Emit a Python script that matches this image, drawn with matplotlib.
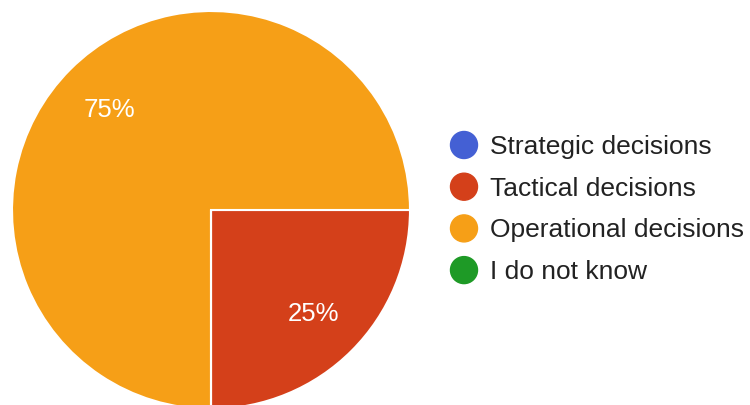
import numpy as np
import matplotlib.pyplot as plt

plt.rcParams["font.family"] = ["Liberation Sans", "DejaVu Sans"]

# ── Data ──────────────────────────────────────────────────────────────────────
labels = ["Strategic decisions", "Tactical decisions",
          "Operational decisions", "I do not know"]
shares = [0, 25, 75, 0]
colors = ["#4460d4", "#d4401a", "#f69f17", "#1e9a26"]

W, H = 750, 405
fig = plt.figure(figsize=(W / 100, H / 100), dpi=100)

# pie axes: centre (211, 210) px from top-left, radius ~199 px
cx, cy, r = 211, 210, 199
ax = fig.add_axes([(cx - r) / W, (H - cy - r) / H, 2 * r / W, 2 * r / H])
wedges, _ = ax.pie(
    shares, colors=colors, startangle=-90, counterclock=True,
    wedgeprops=dict(edgecolor="white", linewidth=1.5),
)
ax.set_xlim(-1, 1); ax.set_ylim(-1, 1)
ax.set_aspect("equal")
ax.axis("off")

# percentage labels inside the non-empty slices
total = sum(shares)
for w, v in zip(wedges, shares):
    if v == 0:
        continue
    mid = np.deg2rad((w.theta1 + w.theta2) / 2)
    ax.text(0.725 * np.cos(mid), 0.725 * np.sin(mid) - 0.01, f"{v / total:.0%}",
            color="white", fontsize=18.5, ha="center", va="center")

# legend, drawn by hand (positions in inches so the dots stay round)
for i, (lab, col) in enumerate(zip(labels, colors)):
    y_px = 145 + i * 41.7
    dot = plt.Circle((464 / 100, (H - y_px) / 100), 13.5 / 100, color=col,
                     transform=fig.dpi_scale_trans)
    fig.patches.append(dot)
    fig.text(490 / W, 1 - (y_px + 2) / H, lab, fontsize=19, color="#222222",
             ha="left", va="center")

fig.savefig("out.png", dpi=100)
